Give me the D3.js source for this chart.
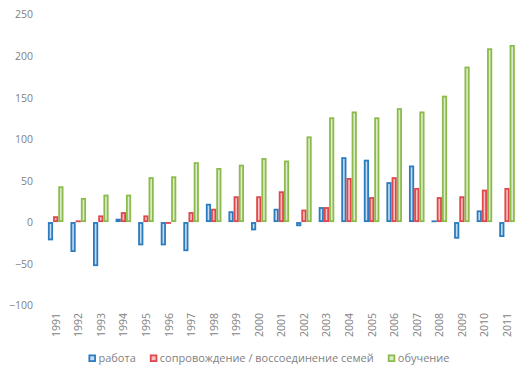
<!DOCTYPE html>
<html><head><meta charset="utf-8">
<script src="https://cdn.jsdelivr.net/npm/d3@7"></script>
<style>body{margin:0;background:#fff}svg{display:block}text{font-family:"Open Sans",sans-serif}</style>
</head><body>
<svg id="c" width="531" height="378"></svg>
<script>
const years = ["1991","1992","1993","1994","1995","1996","1997","1998","1999","2000","2001","2002","2003","2004","2005","2006","2007","2008","2009","2010","2011"];
const seriesNames = ["работа","сопровождение / воссоединение семей","обучение"];
const work =   [-22,-36,-53,4,-28,-28,-35,22,13,-10,16,-5,18,78,75,48,68,2,-20,14,-18];
const family = [7,2,8,12,8,-2,12,16,31,31,37,15,18,53,30,54,41,30,31,39,41];
const study =  [43,29,33,33,54,55,72,65,69,77,74,103,126,133,126,137,133,152,187,209,213];
const yTicks = [-100,-50,0,50,100,150,200,250];
const strokes = ["#2b7bbf","#e0474c","#8bbb4b"];
const fills = ["#c9dcef","#f6c3c3","#deebcf"];

const svg = d3.select("#c");
const y = d3.scaleLinear().domain([-100,250]).range([305.2,14.2]);
const x0 = d3.scaleBand().domain(years).range([44.4,518.3]).paddingInner(0.31).paddingOuter(0.155);
const x1 = d3.scaleBand().domain(d3.range(3)).range([0,x0.bandwidth()]);
const data = [work,family,study];

// y axis
const yAxis = d3.axisLeft(y).tickValues(yTicks).tickSize(0).tickPadding(0);
const gy = svg.append("g").attr("transform","translate(33,0)").call(yAxis);
gy.select(".domain").remove();
gy.selectAll("text").attr("fill","#7f7f7f").style("font-size","10.5px").attr("dy","0.35em");

// x axis labels
const gx = svg.append("g");
gx.selectAll("text").data(years).join("text")
  .attr("transform",d=>`translate(${x0(d)+x0.bandwidth()/2+4},313) rotate(-90)`)
  .attr("text-anchor","end").attr("fill","#7f7f7f").style("font-size","10.5px").text(d=>d);

// bars
const sw = 1.8;
data.forEach((vals,si)=>{
  svg.append("g").selectAll("rect").data(vals).join("rect")
    .attr("x",(d,i)=>x0(years[i])+x1(si)+sw/2)
    .attr("width",x1.bandwidth()-sw)
    .attr("y",d=>Math.min(y(d),y(0))+sw/2)
    .attr("height",d=>Math.max(Math.abs(y(d)-y(0))-sw,0.01))
    .attr("fill",fills[si]).attr("stroke",strokes[si]).attr("stroke-width",sw);
});

// legend
const lg = svg.append("g");
const items = lg.selectAll("g").data(seriesNames).join("g");
items.append("rect").attr("x",sw/2).attr("y",-3.5+sw/2).attr("width",7.5-sw).attr("height",7.5-sw)
  .attr("fill",(d,i)=>fills[i]).attr("stroke",(d,i)=>strokes[i]).attr("stroke-width",sw);
items.append("text").attr("x",10).attr("dy","0.35em").attr("fill","#7f7f7f").style("font-size","11px").text(d=>d);
let xpos = 0; const gaps = [];
items.each(function(){const w = this.getBBox().width; gaps.push(xpos); xpos += w + 15;});
const total = xpos - 15;
items.attr("transform",(d,i)=>`translate(${gaps[i]},0)`);
lg.attr("transform",`translate(${268.5-total/2},358)`);
</script>
</body></html>
